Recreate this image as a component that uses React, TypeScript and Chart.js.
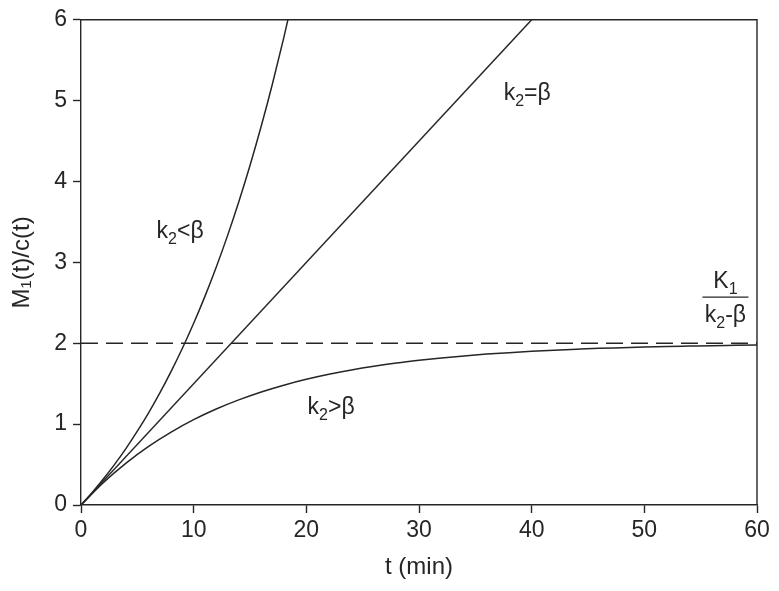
import React, { useEffect, useRef } from "react";
import { Chart, registerables } from "chart.js";

Chart.register(...registerables);

const xTicks = [0, 10, 20, 30, 40, 50, 60];
const yTicks = [0, 1, 2, 3, 4, 5, 6];

// k2 < beta (grows fast, leaves top of plot near t = 18.5)
const lessT = [0, 1, 2, 3, 4, 5, 6, 7, 8, 9, 10, 11, 12, 13, 14, 15, 16, 17, 18, 19];
const lessY = [0, 0.156, 0.324, 0.506, 0.701, 0.913, 1.14, 1.386, 1.652, 1.938, 2.247, 2.58, 2.94, 3.328, 3.747, 4.198, 4.686, 5.212, 5.779, 6.391];

// k2 = beta (straight line)
const equalT = [0, 40];
const equalY = [0, 6];

// k2 > beta (saturating towards 2)
const moreT = [0, 2, 4, 6, 8, 10, 12, 14, 16, 18, 20, 22, 24, 26, 28, 30, 32, 34, 36, 38, 40, 42, 44, 46, 48, 50, 52, 54, 56, 58, 60];
const moreY = [0, 0.279, 0.518, 0.725, 0.902, 1.055, 1.187, 1.3, 1.398, 1.482, 1.554, 1.616, 1.669, 1.715, 1.755, 1.789, 1.819, 1.844, 1.866, 1.884, 1.9, 1.914, 1.926, 1.937, 1.945, 1.953, 1.96, 1.965, 1.97, 1.974, 1.978];

// asymptote K1/(k2-beta)
const asymT = [0, 60];
const asymY = [2, 2];

const INK = "#262626";
const FONT = "'Liberation Sans', Arial, sans-serif";
const MAIN = 23;
const SUB = 16;

function pts(t: number[], y: number[]) {
  return t.map((v, i) => ({ x: v, y: y[i] }));
}

type Seg = { text: string; sub?: boolean };
const labels: { x: number; y: number; segs: Seg[] }[] = [
  { x: 8.8, y: 3.4, segs: [{ text: "k" }, { text: "2", sub: true }, { text: "<β" }] },
  { x: 39.6, y: 5.11, segs: [{ text: "k" }, { text: "2", sub: true }, { text: "=β" }] },
  { x: 22.2, y: 1.22, segs: [{ text: "k" }, { text: "2", sub: true }, { text: ">β" }] },
];

const annotPlugin = {
  id: "annot",
  afterDraw(chart: any) {
    const ctx = chart.ctx;
    const xs = chart.scales.x;
    const ys = chart.scales.y;
    ctx.save();
    ctx.fillStyle = INK;
    ctx.textBaseline = "alphabetic";
    ctx.textAlign = "left";
    const drawSegs = (segs: Seg[], cx: number, baseY: number) => {
      let total = 0;
      for (const s of segs) {
        ctx.font = (s.sub ? SUB : MAIN) + "px " + FONT;
        total += ctx.measureText(s.text).width;
      }
      let x = cx - total / 2;
      for (const s of segs) {
        ctx.font = (s.sub ? SUB : MAIN) + "px " + FONT;
        ctx.fillText(s.text, x, baseY + (s.sub ? 6 : 0));
        x += ctx.measureText(s.text).width;
      }
    };
    for (const l of labels) {
      const px = xs.getPixelForValue(l.x);
      const py = ys.getPixelForValue(l.y);
      drawSegs(l.segs, px, py + 8);
    }
    // K1 / (k2 - beta) fraction
    const fx = xs.getPixelForValue(57.2);
    const fy = ys.getPixelForValue(2.57);
    drawSegs([{ text: "K" }, { text: "1", sub: true }], fx, fy - 9);
    ctx.strokeStyle = INK;
    ctx.lineWidth = 1.4;
    ctx.beginPath();
    ctx.moveTo(fx - 23, fy);
    ctx.lineTo(fx + 23, fy);
    ctx.stroke();
    drawSegs([{ text: "k" }, { text: "2", sub: true }, { text: "-β" }], fx, fy + 25);
    // frame top/right
    const a = chart.chartArea;
    ctx.lineWidth = 1.4;
    ctx.beginPath();
    ctx.moveTo(a.left, a.top);
    ctx.lineTo(a.right, a.top);
    ctx.lineTo(a.right, a.bottom);
    ctx.stroke();
    ctx.restore();
  },
};

export default function App() {
  const ref = useRef<HTMLCanvasElement>(null);
  useEffect(() => {
    if (!ref.current) return;
    const line = (t: number[], y: number[], dash: number[] = []) => ({
      data: pts(t, y),
      borderColor: INK,
      borderWidth: 1.5,
      borderDash: dash,
      pointRadius: 0,
      fill: false,
      tension: 0.4,
      cubicInterpolationMode: "monotone" as const,
    });
    const chart = new Chart(ref.current, {
      type: "line",
      data: {
        datasets: [
          line(asymT, asymY, [17, 8]),
          line(lessT, lessY),
          line(equalT, equalY),
          line(moreT, moreY),
        ],
      },
      plugins: [annotPlugin],
      options: {
        responsive: false,
        animation: false,
        layout: { padding: { top: 17, right: 22, left: 0, bottom: 0 } },
        plugins: { legend: { display: false }, tooltip: { enabled: false } },
        scales: {
          x: {
            type: "linear",
            min: 0,
            max: 60,
            afterBuildTicks: (s: any) => { s.ticks = xTicks.map((v) => ({ value: v })); },
            afterFit: (s: any) => { s.height = 86; },
            grid: { display: true, drawOnChartArea: false, drawTicks: true, tickLength: 8, tickColor: INK, tickWidth: 1.4 },
            border: { display: true, color: INK, width: 1.4 },
            ticks: { color: INK, font: { family: FONT, size: MAIN }, padding: 4, maxRotation: 0 },
            title: { display: true, text: "t (min)", color: INK, font: { family: FONT, size: 24 }, padding: { top: 0, bottom: 9 } },
          },
          y: {
            type: "linear",
            min: 0,
            max: 6,
            afterBuildTicks: (s: any) => { s.ticks = yTicks.map((v) => ({ value: v })); },
            afterFit: (s: any) => { s.width = 81; },
            grid: { display: true, drawOnChartArea: false, drawTicks: true, tickLength: 8, tickColor: INK, tickWidth: 1.4 },
            border: { display: true, color: INK, width: 1.4 },
            ticks: { color: INK, font: { family: FONT, size: MAIN }, padding: 6 },
            title: { display: true, text: "M₁(t)/c(t)", color: INK, font: { family: FONT, size: 24 }, padding: { top: 8, bottom: 0 } },
          },
        },
      },
    } as any);
    return () => chart.destroy();
  }, []);
  return (
    <div style={{ position: "fixed", left: 0, top: 0, width: 779, height: 591, background: "#fff" }}>
      <canvas ref={ref} width={779} height={591} style={{ display: "block" }} />
    </div>
  );
}
